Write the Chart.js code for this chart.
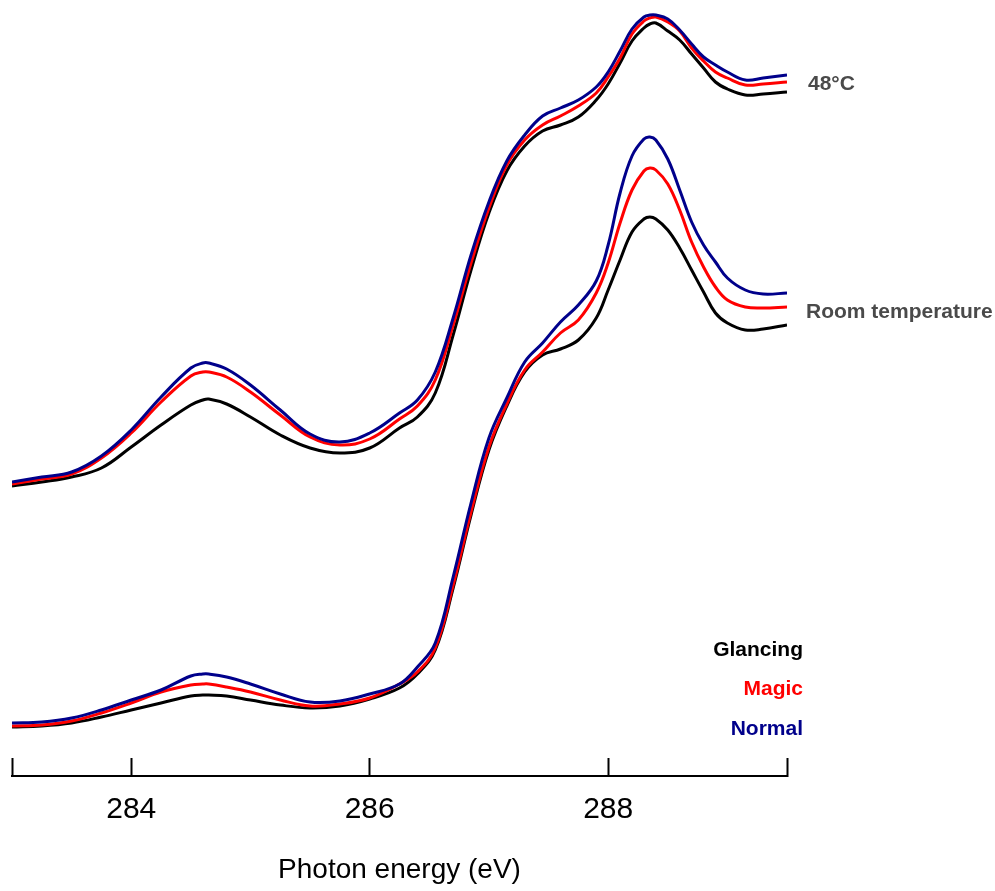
<!DOCTYPE html>
<html>
<head>
<meta charset="utf-8">
<title>C K-edge NEXAFS</title>
<script src="https://cdn.jsdelivr.net/npm/chart.js@4.4.1/dist/chart.umd.min.js"></script>
<style>
  html, body { margin: 0; padding: 0; background: #fff; }
  #wrap { width: 995px; height: 891px; }
</style>
</head>
<body>
<div id="wrap"><canvas id="nexafs" width="995" height="891"></canvas></div>
<script>
// photon energy (eV), shared by every spectrum
const energy = [283.0, 283.25, 283.5, 283.75, 284.0, 284.25, 284.5, 284.6, 284.65, 284.8,
  285.0, 285.25, 285.5, 285.75, 286.0, 286.25, 286.4, 286.55, 286.7, 286.85,
  287.0, 287.15, 287.3, 287.45, 287.6, 287.75, 287.9, 288.0, 288.1, 288.2,
  288.3, 288.35, 288.4, 288.5, 288.6, 288.7, 288.8, 288.9, 289.0, 289.15, 289.3, 289.5];

// 48°C spectra (offset upwards)
const hotNormal = [2.94, 2.99, 3.04, 3.20, 3.46, 3.79, 4.08, 4.13, 4.13, 4.07,
  3.91, 3.66, 3.42, 3.34, 3.43, 3.63, 3.76, 4.04, 4.58, 5.21,
  5.74, 6.15, 6.41, 6.60, 6.68, 6.76, 6.89, 7.04, 7.25, 7.47,
  7.59, 7.61, 7.61, 7.57, 7.46, 7.32, 7.19, 7.11, 7.04, 6.96, 6.98, 7.01];
const hotMagic = [2.92, 2.97, 3.02, 3.18, 3.43, 3.74, 4.00, 4.04, 4.04, 3.99,
  3.84, 3.61, 3.39, 3.31, 3.37, 3.57, 3.70, 3.96, 4.51, 5.13,
  5.68, 6.11, 6.36, 6.51, 6.60, 6.70, 6.83, 6.99, 7.18, 7.42,
  7.55, 7.58, 7.59, 7.54, 7.45, 7.28, 7.15, 7.04, 6.98, 6.91, 6.92, 6.94];
const hotGlancing = [2.90, 2.94, 2.99, 3.08, 3.29, 3.51, 3.71, 3.76, 3.77, 3.72,
  3.59, 3.41, 3.28, 3.23, 3.28, 3.48, 3.59, 3.83, 4.41, 5.06,
  5.63, 6.05, 6.30, 6.45, 6.51, 6.59, 6.76, 6.92, 7.13, 7.35,
  7.48, 7.52, 7.53, 7.45, 7.36, 7.22, 7.08, 6.94, 6.87, 6.81, 6.82, 6.84];

// room temperature spectra
const rtNormal = [0.53, 0.54, 0.58, 0.66, 0.76, 0.86, 1.00, 1.02, 1.02, 0.99,
  0.92, 0.82, 0.74, 0.75, 0.82, 0.92, 1.09, 1.33, 1.99, 2.73,
  3.38, 3.78, 4.14, 4.33, 4.54, 4.71, 4.95, 5.31, 5.83, 6.20,
  6.37, 6.39, 6.36, 6.17, 5.86, 5.54, 5.31, 5.14, 4.98, 4.86, 4.82, 4.83];
const rtMagic = [0.50, 0.51, 0.55, 0.63, 0.73, 0.84, 0.91, 0.92, 0.92, 0.89,
  0.84, 0.76, 0.70, 0.72, 0.78, 0.92, 1.04, 1.28, 1.91, 2.64,
  3.29, 3.72, 4.06, 4.24, 4.43, 4.56, 4.83, 5.13, 5.53, 5.86,
  6.05, 6.08, 6.06, 5.92, 5.66, 5.34, 5.09, 4.89, 4.76, 4.69, 4.68, 4.69];
const rtGlancing = [0.49, 0.50, 0.53, 0.59, 0.66, 0.73, 0.80, 0.81, 0.81, 0.80,
  0.76, 0.71, 0.68, 0.70, 0.77, 0.88, 1.02, 1.26, 1.88, 2.61,
  3.26, 3.70, 4.04, 4.21, 4.27, 4.36, 4.58, 4.86, 5.16, 5.44,
  5.57, 5.59, 5.57, 5.46, 5.28, 5.06, 4.84, 4.63, 4.53, 4.46, 4.47, 4.51];

const xTicks = [284, 286, 288];
const angleNames = ['Glancing', 'Magic', 'Normal'];
const angleColors = ['#000000', '#ff0000', '#00008b'];
const FONT = 'Arial, "Liberation Sans", sans-serif';

function toPoints(values) {
    return values.map((v, i) => ({ x: energy[i], y: v }));
}

function spectrum(values, color) {
    return {
        data: toPoints(values),
        borderColor: color,
        borderWidth: 3,
        pointRadius: 0,
        fill: false,
        tension: 0.4
    };
}

// temperature tags next to the curve ends and the angle key
const curveLabels = {
    id: 'curveLabels',
    afterDraw(chart) {
        const { ctx } = chart;
        const x = chart.scales.x;
        const y = chart.scales.y;
        ctx.save();
        ctx.font = 'bold 21px ' + FONT;
        ctx.textBaseline = 'middle';
        ctx.fillStyle = '#4a4a4a';
        ctx.textAlign = 'left';
        ctx.fillText('48°C', x.right + 21, y.getPixelForValue(hotMagic[hotMagic.length - 1]) + 2);
        ctx.fillText('Room temperature', x.right + 19, y.getPixelForValue(rtMagic[rtMagic.length - 1]) + 5);

        ctx.textAlign = 'right';
        angleNames.forEach((name, i) => {
            ctx.fillStyle = angleColors[i];
            ctx.fillText(name, x.right + 16, y.bottom - 126 + i * 39.5);
        });
        ctx.restore();
    }
};

const ctx = document.getElementById('nexafs').getContext('2d');
new Chart(ctx, {
    type: 'line',
    data: {
        datasets: [
            spectrum(rtNormal, angleColors[2]),
            spectrum(hotNormal, angleColors[2]),
            spectrum(rtMagic, angleColors[1]),
            spectrum(hotMagic, angleColors[1]),
            spectrum(rtGlancing, angleColors[0]),
            spectrum(hotGlancing, angleColors[0])
        ]
    },
    options: {
        responsive: false,
        animation: false,
        devicePixelRatio: 1,
        layout: { padding: { left: 12, right: 208, top: 10, bottom: 0 } },
        plugins: { legend: { display: false }, tooltip: { enabled: false } },
        scales: {
            x: {
                type: 'linear',
                min: 283,
                max: 289.5,
                afterBuildTicks: scale => {
                    scale.ticks = [283, ...xTicks, 289.5].map(v => ({ value: v }));
                },
                afterFit: scale => {
                    scale.height = 115;
                    scale.paddingLeft = 0;
                    scale.paddingRight = 0;
                },
                border: { display: true, color: '#000', width: 2 },
                grid: {
                    display: true,
                    drawOnChartArea: false,
                    drawTicks: true,
                    tickLength: -18,
                    tickWidth: 2,
                    tickColor: '#000'
                },
                ticks: {
                    color: '#000',
                    font: { family: FONT, size: 30 },
                    padding: 34,
                    maxRotation: 0,
                    autoSkip: false,
                    callback: v => xTicks.includes(v) ? String(v) : ''
                },
                title: {
                    display: true,
                    text: 'Photon energy (eV)',
                    color: '#000',
                    font: { family: FONT, size: 28 },
                    padding: { top: 0, bottom: 4 }
                }
            },
            y: {
                display: false,
                min: 0,
                max: 7.66
            }
        }
    },
    plugins: [curveLabels]
});
</script>
</body>
</html>
